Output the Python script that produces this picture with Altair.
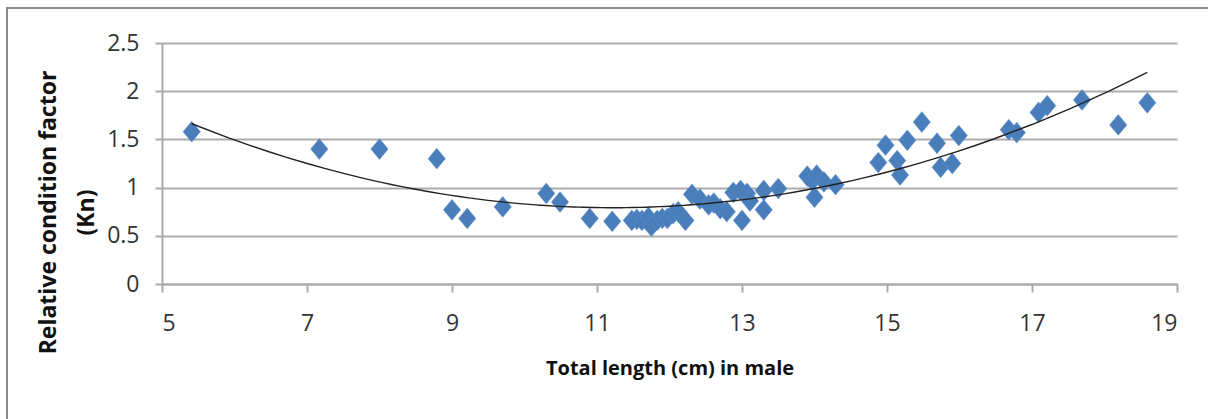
import altair as alt
import pandas as pd

lengths = [5.41, 7.17, 8.0, 8.79, 9.0, 9.21, 9.70, 10.30, 10.49, 10.90, 11.21, 11.48, 11.55,
           11.62, 11.71, 11.75, 11.83, 11.90, 11.97, 12.05, 12.12, 12.22, 12.31, 12.42, 12.54,
           12.61, 12.70, 12.79, 12.88, 12.98, 13.0, 13.07, 13.11, 13.30, 13.30, 13.50, 13.90,
           13.97, 14.0, 14.03, 14.13, 14.29, 14.88, 14.98, 15.14, 15.18, 15.28, 15.48, 15.69,
           15.74, 15.90, 15.99, 16.68, 16.79, 17.09, 17.21, 17.69, 18.19, 18.59]
kn = [1.58, 1.40, 1.40, 1.30, 0.77, 0.68, 0.80, 0.94, 0.85, 0.68, 0.65, 0.66, 0.67,
      0.66, 0.69, 0.60, 0.66, 0.68, 0.68, 0.73, 0.75, 0.66, 0.93, 0.88, 0.82,
      0.84, 0.78, 0.75, 0.95, 0.97, 0.66, 0.94, 0.86, 0.97, 0.77, 0.99, 1.12,
      1.07, 0.90, 1.13, 1.06, 1.03, 1.26, 1.44, 1.28, 1.13, 1.49, 1.68, 1.46,
      1.21, 1.25, 1.54, 1.60, 1.57, 1.78, 1.85, 1.91, 1.65, 1.88]
x_ticks = [5, 7, 9, 11, 13, 15, 17, 19]
y_ticks = [0, 0.5, 1, 1.5, 2, 2.5]

df = pd.DataFrame({"len": lengths, "kn": kn})

FONT = "Open Sans"
GRID = "#ababab"

xenc = alt.X("len:Q", scale=alt.Scale(domain=[5, 19], nice=False, zero=False),
             axis=alt.Axis(values=x_ticks, grid=False, title="Total length (cm) in male",
                           format="~g",
                           titleFont=FONT, titleFontSize=20, titleFontWeight="bold",
                           titleColor="#111111", titlePadding=23,
                           labelFont=FONT, labelFontSize=23, labelColor="#333333",
                           labelPadding=20, tickSize=8, tickColor=GRID, tickWidth=2,
                           domainColor=GRID, domainWidth=2))
yenc = alt.Y("kn:Q", scale=alt.Scale(domain=[0, 2.5], nice=False),
             axis=alt.Axis(values=y_ticks, grid=True, gridColor=GRID, gridWidth=2,
                           title=["Relative condition factor", "(Kn)"],
                           titleFont=FONT, titleFontSize=23, titleFontWeight="bold",
                           titleColor="#111111", titleX=-114, titleY=169,
                           titleAlign="center", titleBaseline="middle", titleLineHeight=38,
                           labelFont=FONT, labelFontSize=23, labelColor="#333333",
                           labelPadding=16, tickSize=7, tickColor=GRID, tickWidth=2,
                           domainColor=GRID, domainWidth=2, format="~g"))

frame = alt.Chart(pd.DataFrame({"a": [0]})).mark_rect(
    fillOpacity=0, stroke="#8c8c8c", strokeWidth=2
).encode(x=alt.value(-155), x2=alt.value(1080), y=alt.value(-35), y2=alt.value(400))

points = alt.Chart(df).mark_point(
    shape="M -1 0 L 0 -1.2 L 1 0 L 0 1.2 Z", filled=True, size=300,
    color="#4a7ebb", opacity=1, stroke="#5b8fcc", strokeWidth=0.5
).encode(x=xenc, y=yenc)

trend = alt.Chart(df).mark_line(color="#222222", strokeWidth=1.4).transform_regression(
    "len", "kn", method="poly", order=2
).encode(x="len:Q", y="kn:Q")

chart = alt.layer(frame, points, trend).properties(
    width=1015, height=241,
    autosize=alt.AutoSizeParams(type="none"),
    padding={"left": 162, "top": 43, "right": 31, "bottom": 135},
    background="white"
).configure_view(stroke=None)

chart.save("out.html", embed_options={"renderer": "svg", "actions": False})
